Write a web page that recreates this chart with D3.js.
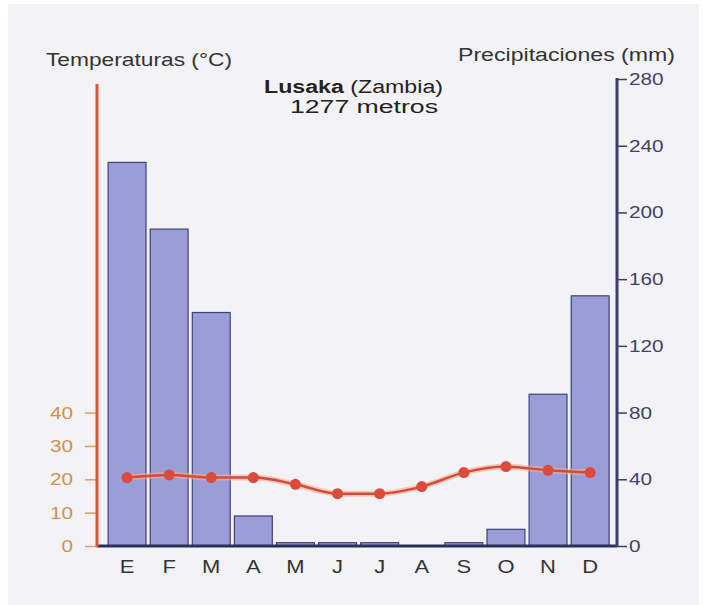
<!DOCTYPE html>
<html><head><meta charset="utf-8">
<script src="https://cdn.jsdelivr.net/npm/d3@7/dist/d3.min.js"></script>
<style>html,body{margin:0;padding:0;background:#fff}svg{display:block}</style>
</head><body>
<script>
const months = ["E","F","M","A","M","J","J","A","S","O","N","D"];
const precipitation = [230, 190, 140, 18, 2, 2, 2, 0, 2, 10, 91, 150];
const temperature = [20.5, 21.3, 20.5, 20.5, 18.5, 15.7, 15.7, 17.8, 22, 23.8, 22.7, 22];
const precipTicks = [0, 40, 80, 120, 160, 200, 240, 280];
const tempTicks = [0, 10, 20, 30, 40];

const W = 703, H = 605;
const STRETCH = 1.22;
const svg = d3.select("body").append("svg").attr("width", W).attr("height", H)
  .style("font-family", "'Liberation Sans', Arial, sans-serif");

function stretch(sel, len) {
  sel.each(function () {
    const l = len != null ? len : this.getComputedTextLength() * STRETCH;
    d3.select(this).attr("textLength", l).attr("lengthAdjust", "spacingAndGlyphs");
  });
}

svg.append("rect").attr("x", 0).attr("y", 0).attr("width", W).attr("height", H).attr("fill", "#ffffff");
svg.append("rect").attr("x", 8).attr("y", 4).attr("width", W - 12).attr("height", H - 4).attr("fill", "#f3f3f5");

const x0 = 97, x1 = 617, yBase = 546, yTop = 79;
const x = d3.scaleBand().domain(d3.range(12)).range([106, 611.2]).paddingInner(0.1).paddingOuter(0.05);
const yP = d3.scaleLinear().domain([0, 280]).range([yBase, yTop]);
const yT = d3.scaleLinear().domain([0, 140]).range([yBase, yTop]);

// bars
svg.append("g").selectAll("rect").data(precipitation).join("rect")
  .attr("x", (d, i) => x(i))
  .attr("y", d => yP(d))
  .attr("width", x.bandwidth())
  .attr("height", d => yBase - yP(d))
  .attr("fill", "#9a9dd8")
  .attr("stroke", "#3d407c")
  .attr("stroke-width", 1.2);

// x axis baseline
svg.append("line").attr("x1", x0).attr("x2", x1).attr("y1", yBase).attr("y2", yBase)
  .attr("stroke", "#2c2f5a").attr("stroke-width", 3);

// right axis
const rAxis = d3.axisRight(yP).tickValues(precipTicks).tickSize(10).tickPadding(2);
const gr = svg.append("g").attr("transform", `translate(${x1},0)`).call(rAxis);
gr.select(".domain").remove();
gr.selectAll(".tick line").attr("stroke", "#3a3d6e").attr("stroke-width", 1.5);
gr.selectAll(".tick text").attr("fill", "#3f4266").attr("font-family", null).style("font-size", "17px");
stretch(gr.selectAll(".tick text"));
svg.append("line").attr("x1", x1).attr("x2", x1).attr("y1", yTop - 1).attr("y2", yBase + 1)
  .attr("stroke", "#3a3d6e").attr("stroke-width", 3);

// left axis
const lAxis = d3.axisLeft(yT).tickValues(tempTicks).tickSize(12).tickPadding(12);
const gl = svg.append("g").attr("transform", `translate(${x0},0)`).call(lAxis);
gl.select(".domain").remove();
gl.selectAll(".tick line").attr("stroke", "#d8a070").attr("stroke-width", 1.5);
gl.selectAll(".tick text").attr("fill", "#d09050").attr("font-family", null).style("font-size", "17px");
stretch(gl.selectAll(".tick text"));
svg.append("line").attr("x1", x0).attr("x2", x0).attr("y1", 84).attr("y2", yBase + 1)
  .attr("stroke", "#d9553c").attr("stroke-width", 3);

// month labels
const ml = svg.append("g").selectAll("text").data(months).join("text")
  .attr("x", (d, i) => x(i) + x.bandwidth() / 2)
  .attr("y", 573)
  .attr("text-anchor", "middle")
  .attr("fill", "#333")
  .style("font-size", "18px")
  .text(d => d);
stretch(ml);

// temperature line
const line = d3.line().x((d, i) => x(i) + x.bandwidth() / 2).y(d => yT(d)).curve(d3.curveMonotoneX);
svg.append("path").datum(temperature).attr("d", line).attr("fill", "none")
  .attr("stroke", "#f4b090").attr("stroke-width", 6).attr("opacity", 0.6);
svg.append("path").datum(temperature).attr("d", line).attr("fill", "none")
  .attr("stroke", "#d9473a").attr("stroke-width", 2.5);
svg.append("g").selectAll("circle").data(temperature).join("circle")
  .attr("cx", (d, i) => x(i) + x.bandwidth() / 2)
  .attr("cy", d => yT(d))
  .attr("r", 5.5)
  .attr("fill", "#db4a3a");

// titles
const tl = svg.append("text").attr("x", 46).attr("y", 66).attr("fill", "#333").style("font-size", "18px")
  .text("Temperaturas (°C)");
stretch(tl, 186);
const tr = svg.append("text").attr("x", 458).attr("y", 61).attr("fill", "#333").style("font-size", "18px")
  .text("Precipitaciones (mm)");
stretch(tr, 217);
const t1 = svg.append("text").attr("x", 264).attr("y", 93).attr("fill", "#222").style("font-size", "18px");
t1.append("tspan").attr("font-weight", "bold").text("Lusaka");
t1.append("tspan").text(" (Zambia)");
stretch(t1, 179);
const t2 = svg.append("text").attr("x", 290).attr("y", 113).attr("fill", "#222").style("font-size", "18px")
  .text("1277 metros");
stretch(t2, 148);
</script>
</body></html>
